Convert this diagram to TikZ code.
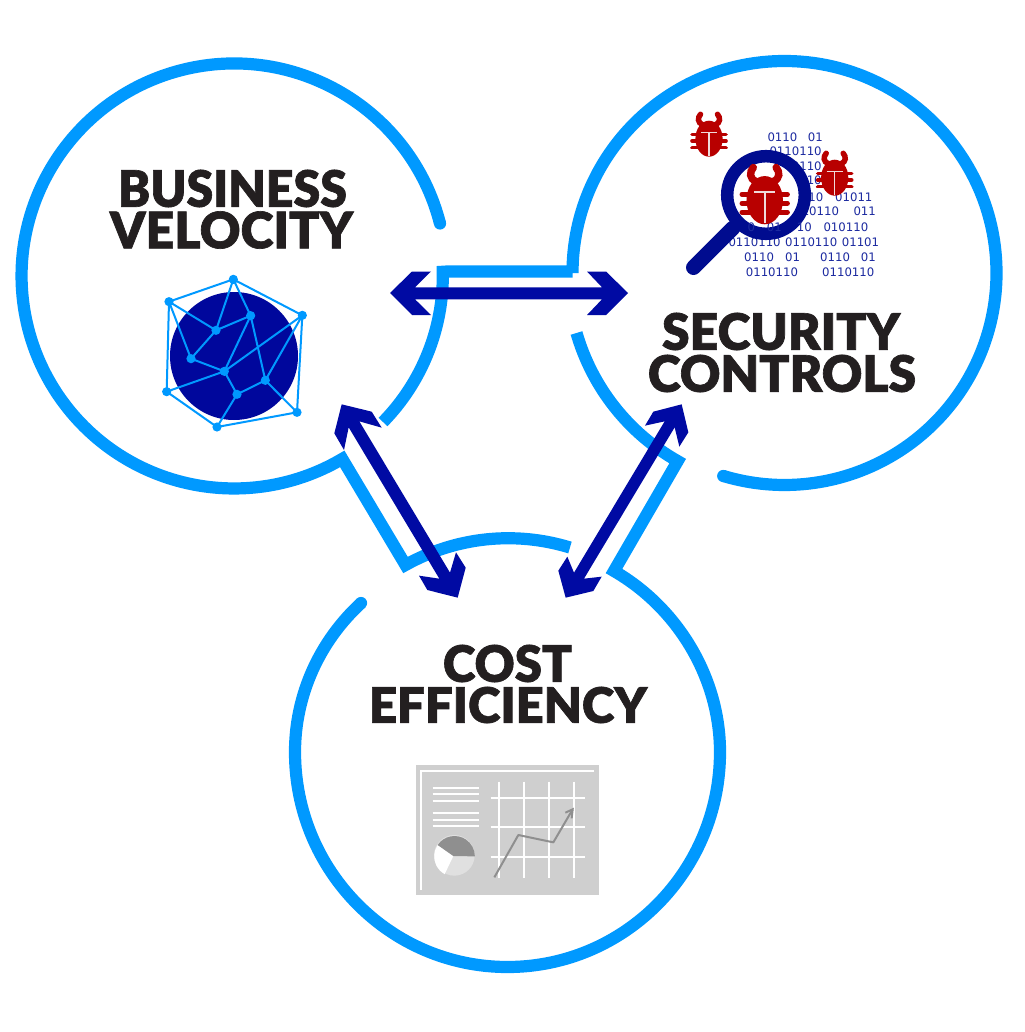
\documentclass[tikz,border=0pt]{standalone}
\usepackage{fontspec}
\setmainfont{Liberation Sans}
\newfontfamily\hdfont[FakeBold=1.3]{Lato Black}
\newfontfamily\binfont{DejaVu Sans}
\usepackage{graphicx}
\definecolor{ring}{HTML}{0099FF}
\definecolor{arrowblue}{HTML}{000AA3}
\definecolor{globe}{HTML}{00079C}
\definecolor{lens}{HTML}{000C8F}
\definecolor{bug}{HTML}{B80000}
\definecolor{bugmark}{HTML}{F0DADA}
\definecolor{titlecol}{HTML}{231F20}
\definecolor{bintext}{HTML}{1C2AA0}
\definecolor{chartbg}{HTML}{CFCFCF}
\definecolor{chartdark}{HTML}{8F8F8F}
\definecolor{chartmid}{HTML}{E0E0E0}
\tikzset{
  ringline/.style={draw=ring,line width=12.2pt,line cap=butt,line join=miter,miter limit=10},
  ringcap/.style={fill=ring,draw=none},
  dbl/.style={fill=arrowblue,draw=none},
  netedge/.style={draw=ring,line width=2pt},
  netdot/.style={fill=ring,draw=none},
  chartline/.style={draw=white,line width=1.9pt},
  titlenode/.style={inner sep=0pt,text=titlecol},
  binnode/.style={inner sep=0pt,anchor=west,text=bintext,font=\binfont\fontsize{11.7}{12}\selectfont},
}
\newcount\bincount
\newcommand{\binword}[3]{\global\advance\bincount by 1 \node[binnode] (bin\the\bincount) at (#1,#2) {#3};}
\newcommand{\titleline}[6]{\node[titlenode] (#1) at (#2,#3) {\resizebox{#4pt}{#5pt}{\hdfont #6}};}
\newcommand{\bugat}[3]{%
 \begin{scope}[shift={(#1,#2)},scale=#3]
  \fill[bug] (0,27) ellipse[x radius=13.6,y radius=18];
  \foreach \sx in {-1,1}{
   \draw[bug,line width=#3*5.5pt,line cap=round] (\sx*6.5,13) .. controls (\sx*11.5,11) and (\sx*11.5,6) .. (\sx*8.5,2.6);
   \foreach \ly in {22.7,29.3,36}{
    \draw[bug,line width=#3*3.6pt,line cap=round] (0,\ly) -- (\sx*17,\ly);
   }
  }
  \draw[bugmark,line width=#3*1.3pt] (-8,21) -- (8,21) (0,21) -- (0,44);
 \end{scope}}
\begin{document}
\begin{tikzpicture}[x=1pt,y=-1pt]
\useasboundingbox (0,0) rectangle (1024,1032);
\fill[white] (0,0) rectangle (1024,1032);

% rings
\draw[ringline] (440,223.5) arc[start angle=-14.3,end angle=-300.6,radius=212.5]
   -- (405.5,565) arc[start angle=-118.9,end angle=-73.1,x radius=212.5,y radius=215];
\fill[ringcap] (440,223.5) circle[radius=6.1];
\draw[ringline] (383,422) arc[start angle=44.4,end angle=-1,radius=209.5]
   -- (447,271.5) -- (572.5,271.5) -- (572.5,273) arc[start angle=180,end angle=466.8,radius=212];
\fill[ringcap] (723.2,476) circle[radius=6.1];
\draw[ringline] (576.5,333) arc[start angle=163.9,end angle=119.5,radius=216]
   -- (614,571) .. controls (678,608) and (720,678) .. (720,752)
   arc[start angle=0,end angle=180,x radius=212.5,y radius=215]
   arc[start angle=180,end angle=226.5,x radius=212.5,y radius=205.5];
\fill[ringcap] (361,603) circle[radius=6.1];

% double arrows
\fill[dbl] (390,293) -- (412,271.5) -- (431,271.5) -- (415,287.3) -- (602,287.3) -- (587,271.5) -- (606,271.5)
  -- (628,293) -- (606,315) -- (587,315) -- (602,299.3) -- (415,299.3) -- (431,315) -- (412,315) -- cycle;
\begin{scope}[shift={(320,390)},x=0.33333pt,y=-0.33333pt]
\fill[dbl] (65,43) -- (155,65) -- (185,113) -- (118,94) -- (390,548) -- (408,487) -- (437,533) -- (413,623)
  -- (322,600) -- (297,557) -- (358,566) -- (86,112) -- (72,180) -- (43,130) -- cycle;
\fill[dbl] (1085,43) -- (1105,127) -- (1078,170) -- (1064,112) -- (792,566) -- (845,560) -- (820,603) -- (737,623)
  -- (715,542) -- (742,500) -- (762,548) -- (1034,94) -- (975,107) -- (1000,65) -- cycle;
\end{scope}

% titles
\titleline{t1}{232.5}{188.5}{229}{37}{BUSINESS}
\titleline{t2}{231.5}{230}{243}{37}{VELOCITY}
\titleline{t3}{781}{331.5}{238}{37}{SECURITY}
\titleline{t4}{782}{373.5}{268}{37}{CONTROLS}
\titleline{t5}{507.5}{663.5}{129}{37}{COST}
\titleline{t6}{508}{705}{278}{36}{EFFICIENCY}

% globe and network
\fill[globe] (234,356) circle[radius=64];
\begin{scope}[shift={(140,260)},x=0.33333pt,y=-0.33333pt]
\coordinate (a) at (280,58); \coordinate (b) at (87,125); \coordinate (c) at (487,166);
\coordinate (d) at (332,167); \coordinate (e) at (228,211); \coordinate (f) at (153,296);
\coordinate (g) at (253,334); \coordinate (h) at (376,361); \coordinate (i) at (291,403);
\coordinate (j) at (80,395); \coordinate (k) at (471,457); \coordinate (l) at (231,501);
\draw[netedge] (b)--(a)--(c)--(k)--(l)--(j)--cycle;
\draw[netedge] (a)--(e) (a)--(d) (b)--(e) (e)--(d) (e)--(f) (b)--(f) (f)--(g) (d)--(g) (g)--(c)
  (d)--(h) (c)--(h) (g)--(j) (g)--(i) (i)--(h) (h)--(k) (i)--(l);
\foreach \n in {a,b,c,d,e,f,g,h,i,j,k,l}{\fill[netdot] (\n) circle[radius=4.6pt];}
\end{scope}

% binary text
\begin{scope}[shift={(660,90)},x=0.33333pt,y=-0.33333pt]
\binword{322}{142}{0110}\binword{443}{142}{01}
\binword{328}{184}{0110110}
\binword{328}{229}{0110110}
\binword{328}{270}{0110110}
\binword{400}{322}{0110}\binword{525}{322}{01011}
\binword{380}{365}{0110110}\binword{580}{365}{011}
\binword{490}{412}{010110}
\binword{205}{456}{0110110}\binword{375}{456}{0110110}\binword{545}{456}{01101}
\binword{252}{503}{0110}\binword{375}{503}{01}\binword{480}{503}{0110}\binword{602}{503}{01}
\binword{257}{546}{0110110}\binword{486}{546}{0110110}
\end{scope}

% bugs and magnifier
\bugat{709}{111.7}{1}
\bugat{834.7}{150.7}{1}
\fill[white] (766,195) circle[radius=33];
\draw[lens,line width=15pt,line cap=round] (733,228) -- (693.5,267.5);
\draw[lens,line width=12.5pt] (766,195) circle[radius=38.8];
\begin{scope}[shift={(660,90)},x=0.33333pt,y=-0.33333pt]
\binword{262}{412}{0}\binword{320}{412}{01}\binword{410}{412}{10}
\end{scope}
\bugat{764.7}{164}{1.34}

% chart
\begin{scope}[shift={(400,750)},x=0.33333pt,y=-0.33333pt]
\fill[chartbg] (48,45) rectangle (598,435);
\draw[chartline] (63,420) -- (63,62) -- (582,62);
\foreach \ly in {115,133,152,190,210,228}{\draw[chartline] (98,\ly) -- (238,\ly);}
\foreach \gx in {298,373,447,522}{\draw[chartline] (\gx,95) -- (\gx,383);}
\foreach \gy in {143,232,321}{\draw[chartline] (272,\gy) -- (556,\gy);}
\fill[chartmid] (163,316) circle[radius=61];
\fill[white] (160,318) -- (113,285) arc[start angle=214,end angle=119,radius=61] -- cycle;
\fill[chartdark] (160,318) -- (113,285) arc[start angle=-146,end angle=0,radius=61] -- cycle;
\draw[chartdark,line width=2pt,line join=round] (283,382) -- (355,255) -- (460,277) -- (518,178);
\draw[chartdark,line width=2pt] (496,188) -- (518,178) -- (515,205);
\end{scope}
\end{tikzpicture}
\end{document}
